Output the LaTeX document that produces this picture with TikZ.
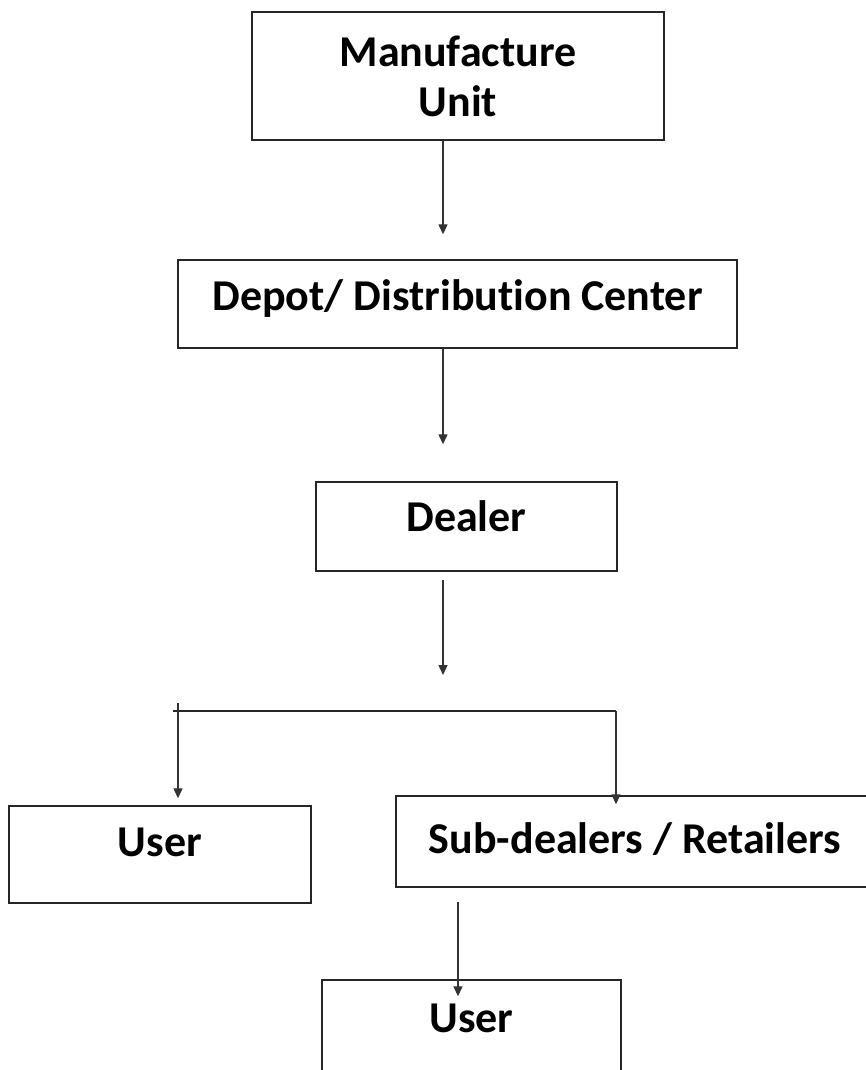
\documentclass[tikz,border=0pt]{standalone}
\usepackage{fontspec}
\setmainfont{Carlito}[Ligatures=NoCommon]
\usepackage{tikz}
\usetikzlibrary{arrows.meta,calc}
\tikzstyle{stage}=[draw=black!85,line width=1.4pt,rectangle,inner sep=0pt,text height=28pt,font=\fontsize{44}{50}\selectfont\bfseries]
\tikzstyle{flow}=[draw=black!80,line width=1.3pt,-{Triangle[length=10pt,width=9pt]}]

\begin{document}
\begin{tikzpicture}[x=1pt,y=1pt]
\fill [white] (0,0) rectangle (866,-1070);
\useasboundingbox (0,0) rectangle (866,-1070);
\node [stage,minimum width=412pt,minimum height=128pt,text height=82pt,text depth=0pt,align=center] (manu) at (458,-76) {Manufacture\\Unit};
\node [stage,minimum width=559pt,minimum height=88pt,text depth=16pt] (depot) at (457.5,-304) {Depot/ Distribution Center};
\node [stage,minimum width=301pt,minimum height=89pt,text depth=19pt] (dealer) at (466.5,-526.5) {Dealer};
\node [stage,minimum width=302pt,minimum height=97pt,text depth=25pt] (user) at (160,-854.5) {User};
\node [stage,minimum width=478pt,minimum height=91pt,text depth=5pt] (sub) at (635,-841.5) {Sub-dealers / Retailers};
\node [stage,minimum width=299pt,minimum height=96pt,text depth=20pt] (enduser) at (471.5,-1028) {User};
% branching points
\coordinate (spine) at (443,0);
\coordinate (fork) at (443,-711);
\coordinate (forkL) at (178,-711);
\coordinate (forkR) at (616,-711);
\coordinate (drop) at (458,0);
\draw [flow,shorten >=25pt] (manu.south -| spine) -- (depot.north -| spine);
\draw [flow,shorten >=37pt] (depot.south -| spine) -- (dealer.north -| spine);
\draw [flow,shorten <=8pt,shorten >=36pt] (dealer.south -| spine) -- (fork);
\draw [draw=black!85,line width=1.3pt] ([xshift=-5pt]forkL) -- (forkR);
\draw [flow,shorten >=7pt] ([yshift=8pt]forkL) -- (forkL |- user.north);
\draw [flow,shorten >=-9pt] (forkR) -- (forkR |- sub.north);
\draw [flow,shorten <=14pt,shorten >=-17pt] (sub.south -| drop) -- (enduser.north -| drop);
\end{tikzpicture}
\end{document}
